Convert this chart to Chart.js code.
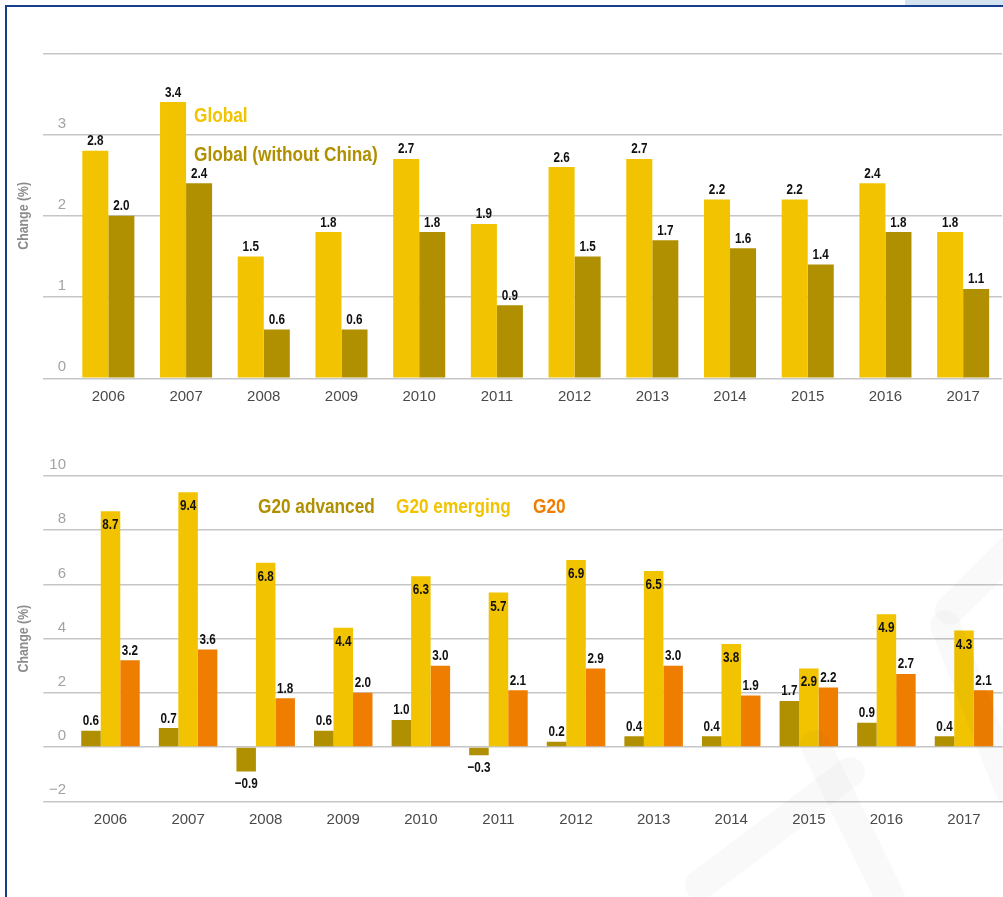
<!DOCTYPE html>
<html>
<head>
<meta charset="utf-8">
<script src="https://cdn.jsdelivr.net/npm/chart.js@4/dist/chart.umd.min.js"></script>
<style>
  html, body { margin: 0; padding: 0; background: #fff; overflow: hidden; }
  #page { position: relative; width: 1003px; height: 897px; background: #fff; }
  .frame { position: absolute; left: 5px; top: 5px; right: -20px; bottom: -20px;
           border-left: 2px solid #173e8c; border-top: 2px solid #173e8c; }
  .tab { position: absolute; left: 905px; top: 0; width: 98px; height: 5px; background: #d4e3f0; }
  canvas { position: absolute; left: 0; }
  #top { top: 0; }
  #bottom { top: 430px; }
  svg.mark { position: absolute; left: 0; top: 0; pointer-events: none; }
</style>
</head>
<body>
<div id="page">
  <div class="tab"></div>
  <div class="frame"></div>
  <canvas id="top" width="1003" height="430"></canvas>
  <canvas id="bottom" width="1003" height="467"></canvas>
  <svg class="mark" width="1003" height="897">
    <g stroke="#000" stroke-opacity="0.022" stroke-width="30" stroke-linecap="round" fill="none">
      <line x1="700" y1="885" x2="850" y2="772"/>
      <line x1="815" y1="745" x2="890" y2="897"/>
      <line x1="945" y1="625" x2="1010" y2="790"/>
      <line x1="950" y1="610" x2="1010" y2="550"/>
    </g>
  </svg>
</div>
<script>
// data
const years = ['2006', '2007', '2008', '2009', '2010', '2011', '2012', '2013', '2014', '2015', '2016', '2017'];

const globalVals    = [2.8, 3.4, 1.5, 1.8, 2.7, 1.9, 2.6, 2.7, 2.2, 2.2, 2.4, 1.8];
const globalNoChina = [2.0, 2.4, 0.6, 0.6, 1.8, 0.9, 1.5, 1.7, 1.6, 1.4, 1.8, 1.1];

const g20Advanced = [0.6, 0.7, -0.9, 0.6, 1.0, -0.3, 0.2, 0.4, 0.4, 1.7, 0.9, 0.4];
const g20Emerging = [8.7, 9.4, 6.8, 4.4, 6.3, 5.7, 6.9, 6.5, 3.8, 2.9, 4.9, 4.3];
const g20All      = [3.2, 3.6, 1.8, 2.0, 3.0, 2.1, 2.9, 3.0, 1.9, 2.2, 2.7, 2.1];

const topTicks = { min: 0, max: 4, step: 1, hidden: [4] };
const bottomTicks = { min: -2, max: 10, step: 2, hidden: [] };

const yTitle = 'Change (%)';

const YELLOW = '#f2c300';
const GOLD = '#b09000';
const ORANGE = '#ef7e00';
// no condensed face installed, so bold Liberation Sans is squeezed on the canvas
const BOLD = "bold {s}px 'Liberation Sans', Arial, sans-serif";

Chart.defaults.font.family = "'Liberation Sans', Arial, sans-serif";

function fmt(v) {
    return (v < 0 ? '\u2212' : '') + Math.abs(v).toFixed(1);
}

function narrowText(ctx, text, x, y, size, squeeze, align, rot) {
    ctx.save();
    ctx.font = BOLD.replace('{s}', size);
    ctx.translate(x, y);
    if (rot) ctx.rotate(rot);
    ctx.scale(squeeze, 1);
    ctx.textAlign = align;
    ctx.fillText(text, 0, 0);
    ctx.restore();
}

// numbers on the bars
const valueLabels = {
    id: 'valueLabels',
    afterDatasetsDraw(chart) {
        const ctx = chart.ctx;
        ctx.save();
        ctx.fillStyle = '#111';
        ctx.textBaseline = 'alphabetic';
        chart.data.datasets.forEach((ds, i) => {
            const meta = chart.getDatasetMeta(i);
            meta.data.forEach((bar, j) => {
                const v = ds.data[j];
                let y;
                if (ds.labelMode === 'inside') y = bar.y + 18;
                else if (v < 0) y = bar.y + 17;
                else y = bar.y - 5.5;
                narrowText(ctx, fmt(v), bar.x, y, 15, 0.78, 'center');
            });
        });
        ctx.restore();
    }
};

// coloured series names written inside the plot + the y title
const textLegend = {
    id: 'textLegend',
    afterDraw(chart, args, opts) {
        const ctx = chart.ctx;
        ctx.save();
        ctx.textBaseline = 'alphabetic';
        opts.items.forEach((p, i) => {
            const ds = chart.data.datasets[i];
            ctx.fillStyle = ds.backgroundColor;
            narrowText(ctx, ds.label, p.x, p.y, 21, 0.82, 'left');
        });
        const area = chart.chartArea;
        ctx.fillStyle = '#8c8c8c';
        ctx.textBaseline = 'middle';
        narrowText(ctx, yTitle, 24, (area.top + area.bottom) / 2, 15, 0.82, 'center', -Math.PI / 2);
        ctx.restore();
    }
};

function yAxis(t, tickLen, pad, width) {
    return {
        min: t.min,
        max: t.max,
        ticks: {
            stepSize: t.step,
            color: '#a3a3a3',
            font: { size: 15 },
            padding: pad,
            labelOffset: -11,
            callback: v => t.hidden.includes(v) ? '' : (v < 0 ? '\u2212' + Math.abs(v) : String(v))
        },
        grid: { color: '#c6c6c6', lineWidth: 1.5, tickLength: tickLen, drawTicks: true },
        border: { display: false },
        afterFit(scale) { scale.width = width; }
    };
}

const xAxis = {
    grid: { display: false, drawTicks: false },
    border: { display: false },
    ticks: { color: '#4a4a4a', font: { size: 15 }, padding: 10 }
};

new Chart(document.getElementById('top'), {
    type: 'bar',
    data: {
        labels: years,
        datasets: [
            { label: 'Global', data: globalVals, backgroundColor: YELLOW },
            { label: 'Global (without China)', data: globalNoChina, backgroundColor: GOLD }
        ]
    },
    options: {
        responsive: false,
        animation: false,
        layout: { padding: { left: 10, right: 1, top: 53.3, bottom: 13.7 } },
        datasets: { bar: { categoryPercentage: 0.67, barPercentage: 1 } },
        plugins: {
            legend: { display: false },
            tooltip: { enabled: false },
            textLegend: { items: [{ x: 194, y: 121.5 }, { x: 194, y: 161 }] }
        },
        scales: { x: xAxis, y: yAxis(topTicks, 26.5, -23, 59.5) }
    },
    plugins: [valueLabels, textLegend]
});

new Chart(document.getElementById('bottom'), {
    type: 'bar',
    data: {
        labels: years,
        datasets: [
            { label: 'G20 advanced', data: g20Advanced, backgroundColor: GOLD },
            { label: 'G20 emerging', data: g20Emerging, backgroundColor: YELLOW, labelMode: 'inside' },
            { label: 'G20', data: g20All, backgroundColor: ORANGE }
        ]
    },
    options: {
        responsive: false,
        animation: false,
        layout: { padding: { left: 10, right: 0.2, top: 46, bottom: 57.7 } },
        datasets: { bar: { categoryPercentage: 0.754, barPercentage: 1 } },
        plugins: {
            legend: { display: false },
            tooltip: { enabled: false },
            textLegend: { items: [{ x: 258, y: 82.5 }, { x: 396, y: 82.5 }, { x: 533, y: 82.5 }] }
        },
        scales: { x: xAxis, y: yAxis(bottomTicks, 28.4, -22.7, 61.7) }
    },
    plugins: [valueLabels, textLegend]
});
</script>
</body>
</html>
